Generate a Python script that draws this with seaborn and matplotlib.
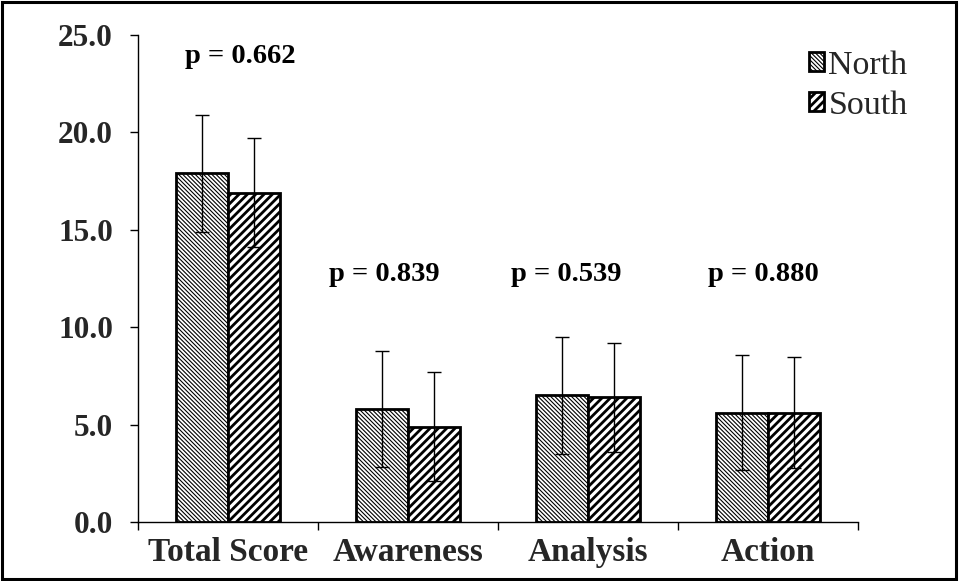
import matplotlib
matplotlib.use("Agg")
import matplotlib.pyplot as plt
from matplotlib.patches import Rectangle, Patch
import seaborn as sns
import pandas as pd

# Scores by region
categories = ["Total Score", "Awareness", "Analysis", "Action"]
regions = ["North", "South"]
north_mean = [17.9, 5.8, 6.5, 5.6]
south_mean = [16.9, 4.9, 6.4, 5.6]
north_sd = [3.0, 3.0, 3.0, 2.95]
south_sd = [2.8, 2.8, 2.8, 2.85]
p_values = ["p = 0.662", "p = 0.839", "p = 0.539", "p = 0.880"]
y_ticks = [0, 5, 10, 15, 20, 25]

df = pd.DataFrame({
    "category": categories * 2,
    "region": ["North"] * 4 + ["South"] * 4,
    "score": north_mean + south_mean,
})

sns.set_theme(style="white")
plt.rcParams["font.family"] = ["Liberation Serif", "DejaVu Serif"]

fig = plt.figure(figsize=(9.59, 5.81), dpi=100)
ax = fig.add_axes([0.1439, 0.1015, 0.7508, 0.8383])

sns.barplot(data=df, x="category", y="score", hue="region", order=categories,
            hue_order=regions, palette=["white", "white"], edgecolor="black",
            linewidth=2.0, width=0.58, errorbar=None, legend=False, ax=ax)

hatches = {"North": "\\" * 8, "South": "////"}
hatch_lw = {"North": 0.8, "South": 2.0}
sds = {"North": north_sd, "South": south_sd}
means = {"North": north_mean, "South": south_mean}

for container, region in zip(ax.containers, regions):
    xs = []
    for bar in container:
        bar.set_hatch(hatches[region])
        try:
            bar.set_hatch_linewidth(hatch_lw[region])
        except AttributeError:
            pass
        xs.append(bar.get_x() + bar.get_width() / 2)
    ax.errorbar(xs, means[region], yerr=sds[region], fmt="none", ecolor="black",
                elinewidth=1.0, capsize=4.7, capthick=1.0, zorder=5)

# p-value annotations
p_pos = [(0.067, 23.9), (-0.133, 12.7), (-0.122, 12.7), (-0.028, 12.7)]
for i, (txt, (dx, y)) in enumerate(zip(p_values, p_pos)):
    ax.text(i + dx, y, txt, ha="center", va="center", fontsize=20.5,
            fontweight="bold", color="black")

ax.set_ylim(0, 25)
ax.set_xlim(-0.5, 3.5)
ax.set_yticks(y_ticks)
ax.set_yticklabels([f"{v:.1f}" for v in y_ticks], fontsize=22.5, fontweight="bold")
ax.tick_params(axis="y", direction="out", length=6, width=1, color="black",
               pad=12, left=True)

ax.set_xticks([-0.5, 0.5, 1.5, 2.5, 3.5])
ax.set_xticklabels([])
ax.set_xticks(range(len(categories)), minor=True)
ax.set_xticklabels(categories, minor=True, fontsize=24, fontweight="bold")
ax.tick_params(axis="x", which="major", direction="out", length=6, width=1,
               color="black", bottom=True)
ax.tick_params(axis="x", which="minor", length=0, pad=11)

ax.set_xlabel("")
ax.set_ylabel("")
for side in ["top", "right"]:
    ax.spines[side].set_visible(False)
for side in ["left", "bottom"]:
    ax.spines[side].set_color("black")
    ax.spines[side].set_linewidth(1.0)

handles = []
for region in regions:
    h = Patch(facecolor="white", edgecolor="black", hatch=hatches[region],
              linewidth=2.0, label=region)
    handles.append(h)
leg = ax.legend(handles=handles, loc="upper left", bbox_to_anchor=(0.913, 0.997),
                frameon=False, fontsize=24.5, handlelength=0.45, handleheight=0.45,
                handletextpad=0.12, labelspacing=0.28, borderaxespad=0)
for h, region in zip(leg.legend_handles, regions):
    try:
        h.set_hatch_linewidth(hatch_lw[region])
    except AttributeError:
        pass

fig.patches.append(Rectangle((0.002, 0.003), 0.995, 0.993, transform=fig.transFigure,
                             fill=False, edgecolor="black", linewidth=2.2, zorder=10))

fig.savefig("out.png", dpi=100)
